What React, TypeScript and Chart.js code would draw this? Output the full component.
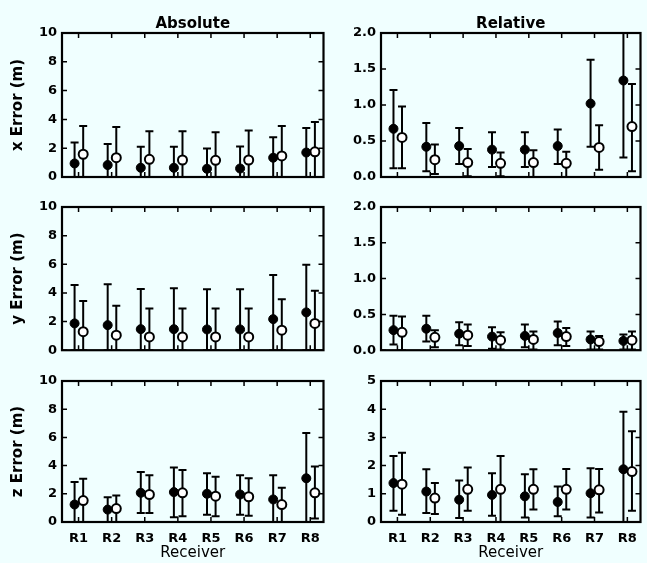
import React, { useEffect, useRef } from 'react';
import { Chart, registerables } from 'chart.js';

Chart.register(...registerables);

const receivers = ['R1', 'R2', 'R3', 'R4', 'R5', 'R6', 'R7', 'R8'];

// Absolute x error (m)
const absXFilledMean = [0.94, 0.83, 0.64, 0.64, 0.57, 0.59, 1.34, 1.7];
const absXFilledLow = [0, 0, 0, 0, 0, 0, 0, 0];
const absXFilledHigh = [2.4, 2.29, 2.1, 2.1, 1.98, 2.12, 2.76, 3.4];
const absXOpenMean = [1.58, 1.34, 1.23, 1.18, 1.16, 1.18, 1.46, 1.75];
const absXOpenLow = [0, 0, 0, 0, 0, 0, 0, 0];
const absXOpenHigh = [3.54, 3.47, 3.18, 3.18, 3.11, 3.23, 3.54, 3.82];

// Relative x error
const relXFilledMean = [0.67, 0.42, 0.43, 0.38, 0.38, 0.43, 1.02, 1.34];
const relXFilledLow = [0.12, 0.08, 0.18, 0.14, 0.14, 0.18, 0.42, 0.27];
const relXFilledHigh = [1.21, 0.75, 0.68, 0.62, 0.62, 0.66, 1.63, 2.41];
const relXOpenMean = [0.55, 0.24, 0.2, 0.19, 0.2, 0.19, 0.41, 0.7];
const relXOpenLow = [0.12, 0.04, 0.01, 0.01, 0, 0, 0.1, 0.08];
const relXOpenHigh = [0.98, 0.45, 0.39, 0.34, 0.37, 0.35, 0.72, 1.29];

// Absolute y error (m)
const absYFilledMean = [1.87, 1.75, 1.47, 1.47, 1.45, 1.45, 2.17, 2.64];
const absYFilledLow = [0, 0, 0, 0, 0, 0, 0, 0];
const absYFilledHigh = [4.56, 4.6, 4.28, 4.32, 4.25, 4.25, 5.26, 5.96];
const absYOpenMean = [1.29, 1.05, 0.93, 0.93, 0.93, 0.93, 1.4, 1.87];
const absYOpenLow = [0, 0, 0, 0, 0, 0, 0, 0];
const absYOpenHigh = [3.43, 3.1, 2.92, 2.92, 2.92, 2.92, 3.55, 4.16];

// Relative y error
const relYFilledMean = [0.28, 0.3, 0.23, 0.19, 0.2, 0.24, 0.15, 0.13];
const relYFilledLow = [0.08, 0.12, 0.07, 0.02, 0.04, 0.07, 0.01, 0.01];
const relYFilledHigh = [0.48, 0.48, 0.39, 0.32, 0.36, 0.4, 0.26, 0.22];
const relYOpenMean = [0.25, 0.18, 0.21, 0.14, 0.15, 0.19, 0.12, 0.14];
const relYOpenLow = [0, 0.04, 0.06, 0.01, 0.01, 0.06, 0.01, 0.01];
const relYOpenHigh = [0.47, 0.28, 0.36, 0.25, 0.26, 0.31, 0.2, 0.26];

// Absolute z error (m)
const absZFilledMean = [1.24, 0.88, 2.07, 2.12, 2.0, 1.95, 1.6, 3.1];
const absZFilledLow = [0, 0, 0.64, 0.33, 0.52, 0.52, 0, 0];
const absZFilledHigh = [2.83, 1.76, 3.55, 3.86, 3.45, 3.31, 3.31, 6.31];
const absZOpenMean = [1.52, 0.95, 1.95, 2.07, 1.83, 1.79, 1.24, 2.07];
const absZOpenLow = [0, 0, 0.64, 0.4, 0.4, 0.45, 0, 0.24];
const absZOpenHigh = [3.07, 1.88, 3.31, 3.69, 3.21, 3.1, 2.43, 3.93];

// Relative z error
const relZFilledMean = [1.38, 1.08, 0.79, 0.96, 0.91, 0.71, 1.02, 1.87];
const relZFilledLow = [0.4, 0.32, 0.14, 0.22, 0.16, 0.2, 0.16, 0];
const relZFilledHigh = [2.34, 1.87, 1.47, 1.73, 1.69, 1.26, 1.91, 3.91];
const relZOpenMean = [1.34, 0.85, 1.16, 1.16, 1.16, 1.16, 1.14, 1.79];
const relZOpenLow = [0.26, 0.28, 0.4, 0, 0.44, 0.44, 0.34, 0.4];
const relZOpenHigh = [2.46, 1.38, 1.93, 2.34, 1.87, 1.88, 1.88, 3.22];

const FONT = '"DejaVu Sans", "Liberation Sans", sans-serif';
const FILLED_OFFSET = -0.12;
const OPEN_OFFSET = 0.14;

type PanelProps = {
  left: number;
  top: number;
  width: number;
  height: number;
  padTop: number;
  padRight: number;
  yAxisWidth: number;
  xAxisHeight: number;
  yMax: number;
  yStep: number;
  decimals: number;
  yTitle?: string;
  title?: string;
  titleY?: number;
  showXLabels: boolean;
  fMean: number[];
  fLow: number[];
  fHigh: number[];
  oMean: number[];
  oLow: number[];
  oHigh: number[];
};

function Panel(p: PanelProps) {
  const ref = useRef<HTMLCanvasElement>(null);

  useEffect(() => {
    const canvas = ref.current;
    if (!canvas) return;

    const errorBars = {
      id: 'errorBars',
      beforeDatasetsDraw(chart: any) {
        const { ctx, chartArea: a, scales } = chart;
        const ys = scales.y;
        ctx.save();
        ctx.beginPath();
        ctx.rect(a.left, a.top, a.right - a.left, a.bottom - a.top);
        ctx.clip();
        ctx.strokeStyle = '#000';
        ctx.lineWidth = 2;
        chart.data.datasets.forEach((ds: any, i: number) => {
          const meta = chart.getDatasetMeta(i);
          meta.data.forEach((el: any, j: number) => {
            const x = el.x;
            const yl = ys.getPixelForValue(ds.errLow[j]);
            const yh = ys.getPixelForValue(ds.errHigh[j]);
            ctx.beginPath();
            ctx.moveTo(x, yl);
            ctx.lineTo(x, yh);
            ctx.moveTo(x - 4, yh);
            ctx.lineTo(x + 4, yh);
            ctx.moveTo(x - 4, yl);
            ctx.lineTo(x + 4, yl);
            ctx.stroke();
          });
        });
        ctx.restore();
      },
    };

    const frame = {
      id: 'frame',
      afterDraw(chart: any) {
        const { ctx, chartArea: a, scales } = chart;
        const xs = scales.x;
        const ys = scales.y;
        ctx.save();
        ctx.strokeStyle = '#000';
        ctx.lineWidth = 2.2;
        ctx.strokeRect(a.left, a.top, a.right - a.left, a.bottom - a.top);
        ctx.lineWidth = 1.5;
        ctx.beginPath();
        ys.ticks.forEach((t: any) => {
          const y = ys.getPixelForValue(t.value);
          ctx.moveTo(a.left, y);
          ctx.lineTo(a.left + 5, y);
          ctx.moveTo(a.right, y);
          ctx.lineTo(a.right - 5, y);
        });
        xs.ticks.forEach((t: any) => {
          const x = xs.getPixelForValue(t.value);
          ctx.moveTo(x, a.top);
          ctx.lineTo(x, a.top + 5);
          ctx.moveTo(x, a.bottom);
          ctx.lineTo(x, a.bottom - 5);
        });
        ctx.stroke();
        if (p.title) {
          ctx.fillStyle = '#000';
          ctx.font = `bold 15px ${FONT}`;
          ctx.textAlign = 'center';
          ctx.textBaseline = 'alphabetic';
          ctx.fillText(p.title, (a.left + a.right) / 2, p.titleY ?? 28);
        }
        ctx.restore();
      },
    };

    const chart = new Chart(canvas, {
      type: 'scatter',
      data: {
        datasets: [
          {
            label: 'filled',
            data: p.fMean.map((v, i) => ({ x: i + 1 + FILLED_OFFSET, y: v })),
            errLow: p.fLow,
            errHigh: p.fHigh,
            pointRadius: 4.5,
            pointBackgroundColor: '#000',
            pointBorderColor: '#000',
            pointBorderWidth: 1,
            clip: false,
          } as any,
          {
            label: 'open',
            data: p.oMean.map((v, i) => ({ x: i + 1 + OPEN_OFFSET, y: v })),
            errLow: p.oLow,
            errHigh: p.oHigh,
            pointRadius: 4.5,
            pointBackgroundColor: '#fff',
            pointBorderColor: '#000',
            pointBorderWidth: 2,
            clip: false,
          } as any,
        ],
      },
      options: {
        animation: false,
        responsive: false,
        maintainAspectRatio: false,
        layout: { padding: { top: p.padTop, right: p.padRight, left: 0, bottom: 0 } },
        plugins: {
          legend: { display: false },
          tooltip: { enabled: false },
          title: { display: false },
        },
        scales: {
          x: {
            type: 'linear',
            min: 0.5,
            max: 8.4,
            grid: { display: false, drawTicks: false },
            border: { display: false },
            afterBuildTicks: (scale: any) => {
              scale.ticks = receivers.map((_, i) => ({ value: i + 1 }));
            },
            afterFit: (scale: any) => {
              scale.height = p.xAxisHeight;
            },
            ticks: {
              display: p.showXLabels,
              autoSkip: false,
              maxRotation: 0,
              padding: 9,
              color: '#000',
              font: { family: FONT, size: 13, weight: 'bold' },
              callback: (v: any) => receivers[Math.round(Number(v)) - 1] ?? '',
            },
            title: {
              display: p.showXLabels,
              text: 'Receiver',
              color: '#000',
              font: { family: FONT, size: 15, weight: 'normal' },
              padding: { top: 0, bottom: 1 },
            },
          },
          y: {
            type: 'linear',
            min: 0,
            max: p.yMax,
            grid: { display: false, drawTicks: false },
            border: { display: false },
            afterFit: (scale: any) => {
              scale.width = p.yAxisWidth;
            },
            ticks: {
              stepSize: p.yStep,
              padding: 5,
              color: '#000',
              font: { family: FONT, size: 13, weight: 'bold' },
              callback: (v: any) => Number(v).toFixed(p.decimals),
            },
            title: {
              display: !!p.yTitle,
              text: p.yTitle ?? '',
              color: '#000',
              font: { family: FONT, size: 15, weight: 'bold' },
              padding: { top: 9, bottom: 0 },
            },
          },
        },
      } as any,
      plugins: [errorBars, frame],
    });

    return () => chart.destroy();
  }, []);

  return (
    <canvas
      ref={ref}
      width={p.width}
      height={p.height}
      style={{ position: 'absolute', left: p.left, top: p.top, width: p.width, height: p.height }}
    />
  );
}

const leftCol = { left: 0, width: 330, yAxisWidth: 62, padRight: 5 };
const rightCol = { left: 330, width: 317, yAxisWidth: 51, padRight: 2 };
const row1 = { top: 0, height: 190, padTop: 33, xAxisHeight: 13, showXLabels: false };
const row2 = { top: 190, height: 173, padTop: 17, xAxisHeight: 12, showXLabels: false };
const row3 = { top: 363, height: 200, padTop: 18, xAxisHeight: 41, showXLabels: true };

export default function App() {
  return (
    <div
      style={{
        position: 'absolute',
        left: 0,
        top: 0,
        width: 647,
        height: 563,
        background: '#f0ffff',
        overflow: 'hidden',
      }}
    >
      <Panel
        {...leftCol}
        {...row1}
        yMax={10}
        yStep={2}
        decimals={0}
        yTitle="x Error (m)"
        title="Absolute"
        fMean={absXFilledMean}
        fLow={absXFilledLow}
        fHigh={absXFilledHigh}
        oMean={absXOpenMean}
        oLow={absXOpenLow}
        oHigh={absXOpenHigh}
      />
      <Panel
        {...rightCol}
        {...row1}
        yMax={2}
        yStep={0.5}
        decimals={1}
        title="Relative"
        fMean={relXFilledMean}
        fLow={relXFilledLow}
        fHigh={relXFilledHigh}
        oMean={relXOpenMean}
        oLow={relXOpenLow}
        oHigh={relXOpenHigh}
      />
      <Panel
        {...leftCol}
        {...row2}
        yMax={10}
        yStep={2}
        decimals={0}
        yTitle="y Error (m)"
        fMean={absYFilledMean}
        fLow={absYFilledLow}
        fHigh={absYFilledHigh}
        oMean={absYOpenMean}
        oLow={absYOpenLow}
        oHigh={absYOpenHigh}
      />
      <Panel
        {...rightCol}
        {...row2}
        yMax={2}
        yStep={0.5}
        decimals={1}
        fMean={relYFilledMean}
        fLow={relYFilledLow}
        fHigh={relYFilledHigh}
        oMean={relYOpenMean}
        oLow={relYOpenLow}
        oHigh={relYOpenHigh}
      />
      <Panel
        {...leftCol}
        {...row3}
        yMax={10}
        yStep={2}
        decimals={0}
        yTitle="z Error (m)"
        fMean={absZFilledMean}
        fLow={absZFilledLow}
        fHigh={absZFilledHigh}
        oMean={absZOpenMean}
        oLow={absZOpenLow}
        oHigh={absZOpenHigh}
      />
      <Panel
        {...rightCol}
        {...row3}
        yMax={5}
        yStep={1}
        decimals={0}
        fMean={relZFilledMean}
        fLow={relZFilledLow}
        fHigh={relZFilledHigh}
        oMean={relZOpenMean}
        oLow={relZOpenLow}
        oHigh={relZOpenHigh}
      />
    </div>
  );
}
